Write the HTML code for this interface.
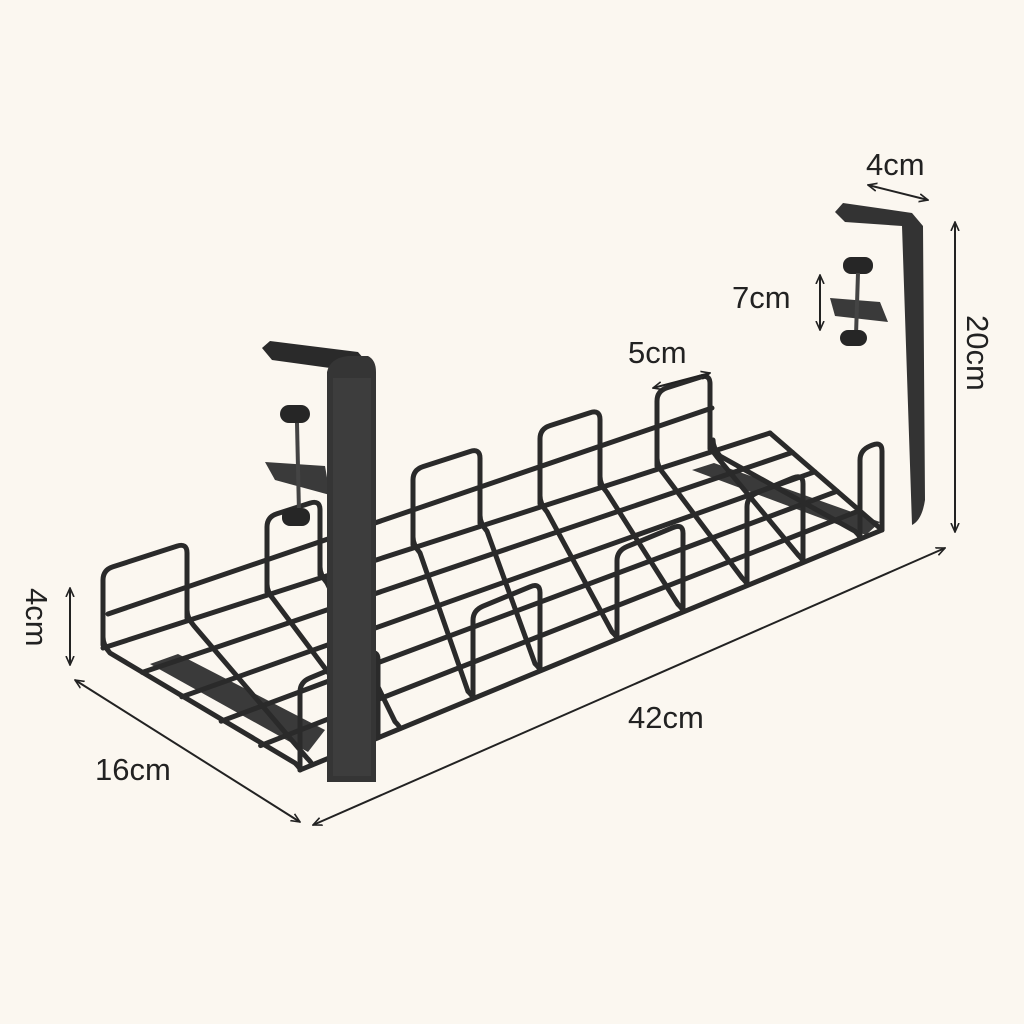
<!DOCTYPE html>
<html><head><style>
html,body{margin:0;padding:0;background:#fbf7f0;}
svg{display:block}
text{font-family:"Liberation Sans",sans-serif;font-size:31px;fill:#222}
</style></head><body>
<svg id="s" width="1024" height="1024" viewBox="0 0 1024 1024" xmlns="http://www.w3.org/2000/svg">
<rect width="1024" height="1024" fill="#fbf7f0"/>
<defs>
<marker id="a" viewBox="0 0 10 10" refX="9" refY="5" markerWidth="5" markerHeight="5" orient="auto-start-reverse"><path d="M0,1 L9,5 L0,9" fill="none" stroke="#222" stroke-width="1.6"/></marker>
</defs>
<!-- mounting plates -->
<polygon points="150,664 178,654 325,730 308,752" fill="#3a3a3a"/>
<polygon points="692,470 714,463 880,522 866,535" fill="#3a3a3a"/>
<g id="wires" fill="none" stroke="#2a2a2a" stroke-width="5" stroke-linejoin="round" stroke-linecap="round"></g>
<!-- left bracket clamp -->
<path d="M262,348 L270,341 L358,352 L370,366 L330,368 L272,360 Z" fill="#2a2a2a"/>
<path d="M265,462 L325,466 L330,495 L275,480Z" fill="#3a3a3a"/>
<rect x="280" y="405" width="30" height="18" rx="9" fill="#262626"/>
<line x1="297" y1="423" x2="299" y2="512" stroke="#444" stroke-width="4"/>
<rect x="282" y="508" width="28" height="18" rx="8" fill="#262626"/>
<!-- left bracket plate -->
<path d="M327,372 Q330,358 348,356 L368,356 Q376,360 376,372 L376,782 L327,782Z" fill="#353535"/>
<rect x="333" y="378" width="38" height="398" fill="#3d3d3d"/>
<!-- right bracket -->
<path d="M835,212 L843,203 L912,213 L923,226 L925,500 Q922,520 912,525 L902,226 L845,222 Z" fill="#333"/>
<path d="M830,298 L880,302 L888,322 L835,316Z" fill="#3a3a3a"/>
<rect x="843" y="257" width="30" height="17" rx="8" fill="#262626"/>
<line x1="858" y1="273" x2="856" y2="335" stroke="#444" stroke-width="4"/>
<rect x="840" y="330" width="27" height="16" rx="8" fill="#262626"/>
<!-- dimensions -->
<g stroke="#222" stroke-width="2" fill="none" marker-start="url(#a)" marker-end="url(#a)">
<line x1="868" y1="185" x2="928" y2="200"/>
<line x1="955" y1="222" x2="955" y2="532"/>
<line x1="820" y1="275" x2="820" y2="330"/>
<line x1="653" y1="388" x2="710" y2="373"/>
<line x1="70" y1="588" x2="70" y2="665"/>
<line x1="75" y1="680" x2="300" y2="822"/>
<line x1="313" y1="825" x2="945" y2="548"/>
</g>
<text x="866" y="175">4cm</text>
<text x="732" y="308">7cm</text>
<text x="628" y="363">5cm</text>
<text x="628" y="728">42cm</text>
<text x="95" y="780">16cm</text>
<text transform="translate(967,315) rotate(90)">20cm</text>
<text transform="translate(26,588) rotate(90)">4cm</text>
</svg>
<script>
function yb(x){return 645-0.323*(x-103);}
function yf(x){return 770-0.414*(x-300);}
function f(v){return v.toFixed(1);}
function line(a){return "M"+a.map(function(p){return f(p[0])+","+f(p[1]);}).join(" L");}
var paths=[];
var HB=75,HF=88,R=10;
var BL=[103,648],FL=[300,770],BR=[770,433],FR=[882,530];
[0,0.2,0.4,0.6,0.8,1].forEach(function(s){
  var a=[BL[0]+(FL[0]-BL[0])*s,BL[1]+(FL[1]-BL[1])*s];
  var b=[BR[0]+(FR[0]-BR[0])*s,BR[1]+(FR[1]-BR[1])*s];
  paths.push(line([a,b]));
});
paths.push(line([BR,FR]));
paths.push(line([[108,614],[712,408]]));
function loop(x1,x2,yfn,H){
  var y1=yfn(x1),y2=yfn(x2),t1=y1-H,t2=y2-H,sl=(t2-t1)/(x2-x1);
  return "M"+f(x1)+","+f(y1)+" L"+f(x1)+","+f(t1+R)+" Q"+f(x1)+","+f(t1)+" "+f(x1+R)+","+f(t1+sl*R)+
    " L"+f(x2-R)+","+f(t2-sl*R)+" Q"+f(x2)+","+f(t2)+" "+f(x2)+","+f(t2+R)+" L"+f(x2)+","+f(y2);
}
function backLoop(a,b){paths.push(loop(a,b,yb,HB));}
function frontLoop(a,b){paths.push(loop(a,b,yf,HF));}
function cross(xb,xf){var y0=yb(xb),y1=yf(xf);
  paths.push("M"+f(xb)+","+f(y0-8)+" Q"+f(xb)+","+f(y0)+" "+f(xb+7)+","+f(y0+8)+" L"+f(xf-5)+","+f(y1-7)+" Q"+f(xf)+","+f(y1-2)+" "+f(xf)+","+f(y1));}
var units=[[103,187,300,312],[267,320,377,400],[413,480,473,540],[540,600,617,683],[657,710,747,803]];
units.forEach(function(u){
  backLoop(u[0],u[1]);
  if(u[2]>=473) frontLoop(u[2],u[3]);
  cross(u[0],u[2]);cross(u[1],u[3]);
});
frontLoop(300,378);
frontLoop(860,882);
cross(713,860);
var g=document.getElementById("wires");
paths.forEach(function(d){var p=document.createElementNS("http://www.w3.org/2000/svg","path");p.setAttribute("d",d);g.appendChild(p);});
</script>
</body></html>
